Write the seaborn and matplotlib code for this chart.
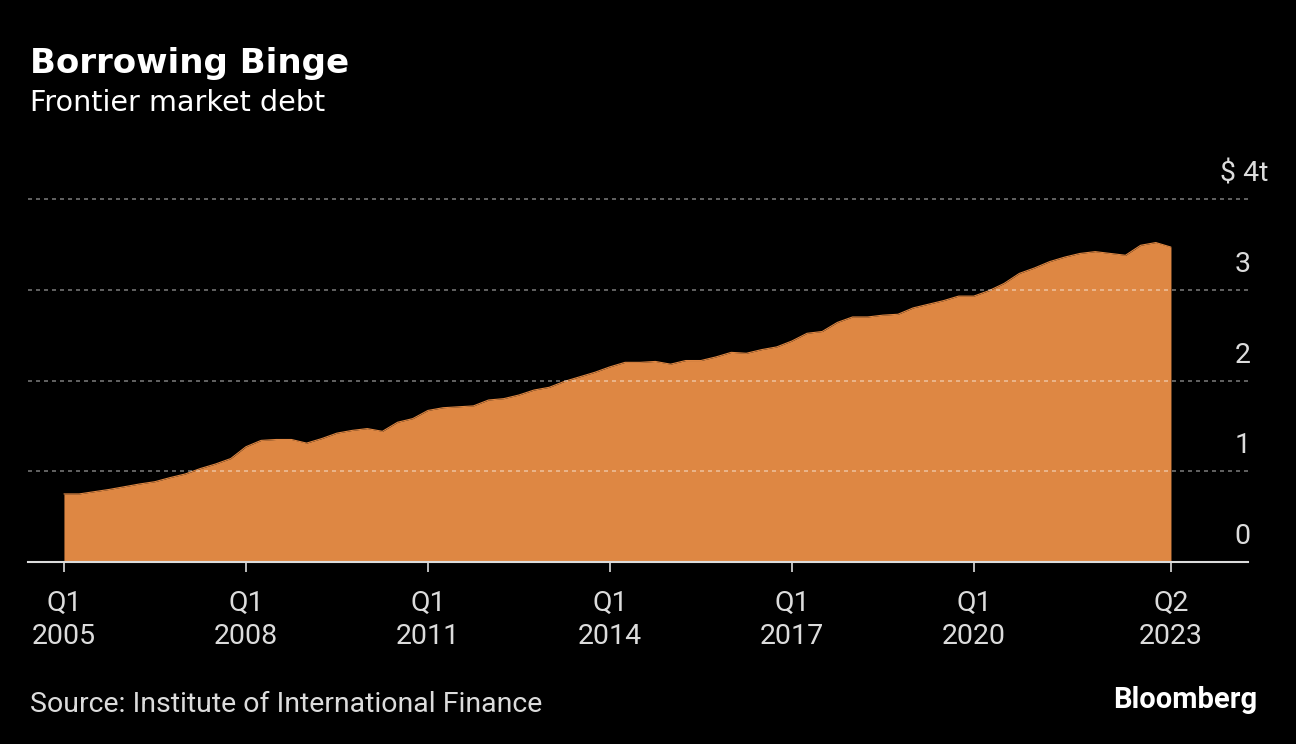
import matplotlib
matplotlib.use("Agg")
import matplotlib.pyplot as plt
import seaborn as sns
import pandas as pd

# Frontier market debt, $ trillions, quarterly Q1 2005 .. Q2 2023
quarters = pd.period_range("2005Q1", "2023Q2", freq="Q")
debt = [
    0.75, 0.75, 0.775, 0.80,    # 2005
    0.83, 0.86, 0.885, 0.93,    # 2006
    0.97, 1.03, 1.08, 1.14,     # 2007
    1.27, 1.34, 1.35, 1.35,     # 2008
    1.31, 1.36, 1.42, 1.45,     # 2009
    1.47, 1.44, 1.54, 1.58,     # 2010
    1.67, 1.70, 1.71, 1.72,     # 2011
    1.785, 1.80, 1.84, 1.895,   # 2012
    1.925, 1.99, 2.04, 2.09,    # 2013
    2.15, 2.20, 2.20, 2.21,     # 2014
    2.18, 2.22, 2.22, 2.26,     # 2015
    2.31, 2.30, 2.34, 2.37,     # 2016
    2.435, 2.52, 2.54, 2.64,    # 2017
    2.70, 2.70, 2.72, 2.73,     # 2018
    2.80, 2.84, 2.88, 2.93,     # 2019
    2.93, 2.99, 3.07, 3.18,     # 2020
    3.24, 3.31, 3.36, 3.40,     # 2021
    3.42, 3.40, 3.38, 3.49,     # 2022
    3.52, 3.47,                 # 2023
]
tick_quarters = ["2005Q1", "2008Q1", "2011Q1", "2014Q1", "2017Q1", "2020Q1", "2023Q2"]
tick_labels = ["Q1\n2005", "Q1\n2008", "Q1\n2011", "Q1\n2014", "Q1\n2017", "Q1\n2020", "Q2\n2023"]
y_levels = [0, 1, 2, 3, 4]
y_labels = ["0", "1", "2", "3", "$ 4t"]

df = pd.DataFrame({"quarter": quarters, "debt": debt})
df["pos"] = range(len(df))
tick_pos = [df.index[df["quarter"] == pd.Period(q, freq="Q")][0] for q in tick_quarters]

ORANGE = "#de8743"
TEXT = "#dcdcdc"
FS = 20.5

sns.set_theme(style="dark")
plt.rcParams["font.family"] = ["Roboto", "DejaVu Sans"]
plt.rcParams.update({"figure.facecolor": "black", "axes.facecolor": "black",
                     "savefig.facecolor": "black"})

fig = plt.figure(figsize=(12.96, 7.44), dpi=100)
ymax = 4.3
ax = fig.add_axes([28 / 1296, 1 - 562 / 744, 1220 / 1296, ymax * 90.75 / 744])

sns.lineplot(data=df, x="pos", y="debt", ax=ax, color=ORANGE, lw=0.8, zorder=2)
ax.fill_between(df["pos"], 0, df["debt"], color=ORANGE, lw=0, zorder=2)

ax.set_xlim(-2.37, 78.08)
ax.set_ylim(0, ymax)

# dotted gridlines, drawn faintly over the area
for v in y_levels[1:]:
    ax.axhline(v, color="white", alpha=0.45, lw=1.2, ls=(0, (2.4, 2.4)), zorder=3)

for v, lab in zip(y_levels, y_labels):
    if lab.startswith("$"):
        ax.annotate(lab, xy=(1.0, v), xycoords=("axes fraction", "data"),
                    xytext=(14.5, 18.3), textcoords="offset points",
                    ha="right", va="center", color=TEXT, fontsize=FS)
    else:
        ax.annotate(lab, xy=(1.0, v), xycoords=("axes fraction", "data"),
                    xytext=(2, 18.3), textcoords="offset points",
                    ha="right", va="center", color=TEXT, fontsize=FS)

ax.set_xticks(tick_pos)
ax.set_xticklabels(tick_labels, fontsize=FS, color=TEXT, linespacing=1.3)
ax.set_yticks([])
ax.tick_params(axis="x", direction="out", length=7, width=1.2, color=TEXT, pad=13, bottom=True)
ax.set_xlabel("")
ax.set_ylabel("")

for s in ["top", "right", "left"]:
    ax.spines[s].set_visible(False)
ax.spines["bottom"].set_color(TEXT)
ax.spines["bottom"].set_linewidth(1.5)
ax.spines["bottom"].set_zorder(4)
ax.grid(False)

fig.text(30 / 1296, 1 - 73 / 744, "Borrowing Binge", color="white", fontsize=24.5,
         fontweight="bold", family="DejaVu Sans", ha="left", va="baseline")
fig.text(30 / 1296, 1 - 111 / 744, "Frontier market debt", color="white", fontsize=20.6,
         family="DejaVu Sans", ha="left", va="baseline")
fig.text(30 / 1296, 1 - 712 / 744, "Source: Institute of International Finance", color=TEXT,
         fontsize=FS, ha="left", va="baseline")
fig.text(1257 / 1296, 1 - 708 / 744, "Bloomberg", color="white", fontsize=21,
         fontweight="bold", ha="right", va="baseline")

fig.savefig("out.png", dpi=100, facecolor="black")
